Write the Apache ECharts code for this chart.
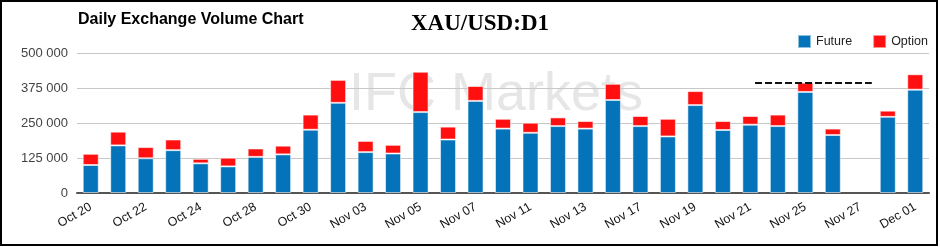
<!DOCTYPE html>
<html>
<head>
<meta charset="utf-8">
<script src="https://cdn.jsdelivr.net/npm/echarts@6/dist/echarts.min.js"></script>
<style>
html,body{margin:0;padding:0;background:#fff;}
#frame{position:absolute;left:0;top:0;width:938px;height:246px;border:2px solid #000;box-sizing:border-box;}
#chart{position:absolute;left:0;top:0;width:940px;height:247px;}
</style>
</head>
<body>
<div id="chart"></div>
<div id="frame"></div>
<script>
const categories = ['Oct 20','Oct 21','Oct 22','Oct 23','Oct 24','Oct 27','Oct 28','Oct 29','Oct 30','Oct 31',
  'Nov 03','Nov 04','Nov 05','Nov 06','Nov 07','Nov 10','Nov 11','Nov 12','Nov 13','Nov 14',
  'Nov 17','Nov 18','Nov 19','Nov 20','Nov 21','Nov 24','Nov 25','Nov 26','Nov 27','Nov 28','Dec 01'];
const futureValues = [100000,170000,124000,153000,106000,95000,129000,138000,226000,322000,
  146000,141000,289000,191000,329000,230000,215000,239000,230000,332000,
  239000,202000,314000,225000,244000,239000,361000,207000,null,272000,369000];
const optionValues = [40000,49000,40000,38000,16000,31000,30000,31000,54000,82000,
  40000,31000,144000,46000,53000,35000,36000,31000,27000,58000,
  36000,63000,50000,32000,31000,41000,33000,23000,null,22000,55000];
const yTicks = [0,125000,250000,375000,500000];
const levelLine = [[24.67,393000],[28.92,393000]];

const chart = echarts.init(document.getElementById('chart'), null, {renderer:'canvas'});
const fmt = v => String(v).replace(/\B(?=(\d{3})+(?!\d))/g, ' ');
chart.setOption({
  animation:false,
  backgroundColor:'#fff',
  graphic:[
    {type:'text', left:349, top:68, z:0, silent:true,
     style:{text:'IFC Markets', font:'54px "Liberation Sans", Arial, sans-serif', fill:'#e6e6e6'}},
    {type:'text', left:78, top:12, z:10,
     style:{text:'Daily Exchange Volume Chart', font:'bold 16px "Liberation Sans", Arial, sans-serif', fill:'#000'}},
    {type:'text', left:411, top:13, z:10,
     style:{text:'XAU/USD:D1', font:'bold 23px "Liberation Serif", "Times New Roman", serif', fill:'#000'}}
  ],
  legend:{
    left:792, top:29, itemWidth:13, itemHeight:13, itemGap:20,
    icon:'rect',
    textStyle:{fontFamily:'"Liberation Sans", Arial, sans-serif', fontSize:12.5, color:'#222'},
    data:['Future','Option']
  },
  grid:{left:77, right:11, top:53, bottom:54},
  xAxis:[{
    type:'category', data:categories,
    axisLine:{lineStyle:{color:'#555', width:2}},
    axisTick:{show:false},
    axisLabel:{interval:1, rotate:30, margin:13, color:'#111', fontSize:12.5,
      fontFamily:'"Liberation Sans", Arial, sans-serif'}
  },{
    type:'value', min:0, max:31, show:false
  }],
  yAxis:{
    type:'value', min:yTicks[0], max:yTicks[yTicks.length-1], interval:125000,
    axisLine:{show:false}, axisTick:{show:false},
    splitLine:{lineStyle:{color:'#c8c8c8', width:1}},
    axisLabel:{formatter:fmt, margin:9, color:'#444', fontSize:13,
      fontFamily:'"Liberation Sans", Arial, sans-serif'}
  },
  series:[
    {name:'Future', type:'bar', stack:'v', data:futureValues, barWidth:16,
     itemStyle:{color:'#0473b9', borderColor:'rgba(255,255,255,0.55)', borderWidth:1}},
    {name:'Option', type:'bar', stack:'v', data:optionValues, barWidth:16,
     itemStyle:{color:'#ff0f0f', borderColor:'rgba(255,255,255,0.55)', borderWidth:1}},
    {name:'level', type:'line', xAxisIndex:1, data:levelLine, symbol:'none', z:5,
     lineStyle:{color:'#111', width:2, type:[7,3]}}
  ]
});
</script>
</body>
</html>
